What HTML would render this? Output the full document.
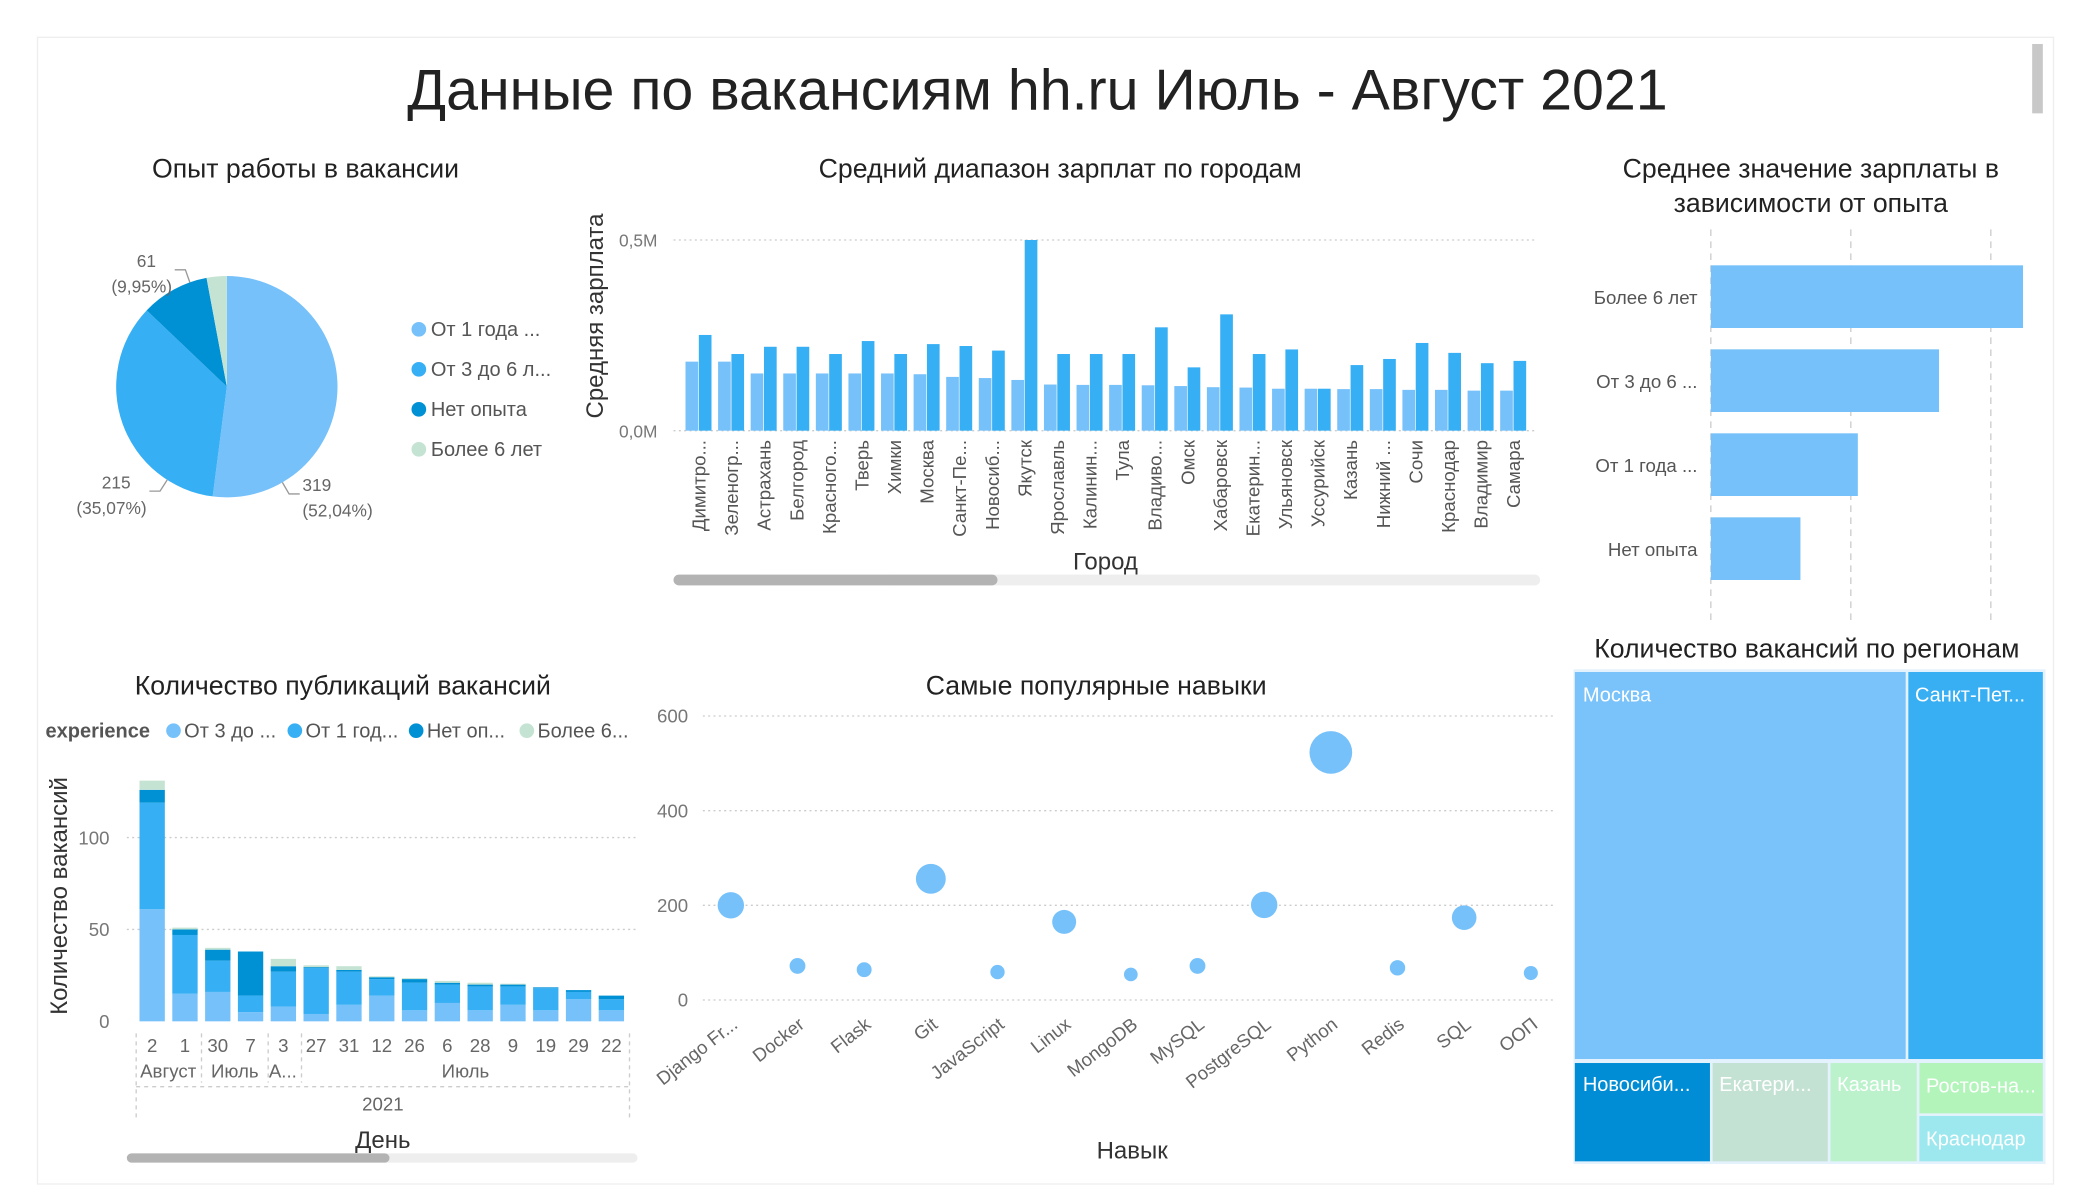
<!DOCTYPE html>
<html><head><meta charset="utf-8"><style>
html,body{margin:0;padding:0;background:#fff;}
svg{display:block;font-family:"Liberation Sans","DejaVu Sans",sans-serif;}
</style></head><body>
<svg id="root" width="2075" height="1200" viewBox="0 0 1556 900" xmlns="http://www.w3.org/2000/svg">
<rect x="28" y="28" width="1512" height="860" fill="#fff" stroke="#eee" stroke-width="1"/>
<rect x="1524" y="33" width="8" height="52" fill="#c8c8c8"/>
<text x="778" y="82" text-anchor="middle" font-size="43" fill="#222">Данные по вакансиям hh.ru Июль - Август 2021</text>
<text x="229" y="133" text-anchor="middle" font-size="20" fill="#222">Опыт работы в вакансии</text>
<text x="795" y="133" text-anchor="middle" font-size="20" fill="#222">Средний диапазон зарплат по городам</text>
<text x="1358" y="133" text-anchor="middle" font-size="20" fill="#222">Среднее значение зарплаты в</text>
<text x="1358" y="159" text-anchor="middle" font-size="20" fill="#222">зависимости от опыта</text>
<text x="257" y="521" text-anchor="middle" font-size="20" fill="#222">Количество публикаций вакансий</text>
<text x="822" y="521" text-anchor="middle" font-size="20" fill="#222">Самые популярные навыки</text>
<text x="1355" y="493" text-anchor="middle" font-size="20" fill="#222">Количество вакансий по регионам</text>
<g id="g"></g>
</svg>
<script>
// ---- Pie data ----
const pieLabels = ["От 1 года ...", "От 3 до 6 л...", "Нет опыта", "Более 6 лет"];
const pieValues = [319, 215, 61, 18];
const pieValueText = ["319", "215", "61", ""];
const piePctText = ["(52,04%)", "(35,07%)", "(9,95%)", ""];
// ---- City salary data ----
const cities = ["Димитро...","Зеленогр...","Астрахань","Белгород","Красного...","Тверь","Химки","Москва","Санкт-Пе...","Новосиб...","Якутск","Ярославль","Калинин...","Тула","Владиво...","Омск","Хабаровск","Екатерин...","Ульяновск","Уссурийск","Казань","Нижний ...","Сочи","Краснодар","Владимир","Самара"];
const salaryMin = [0.181,0.181,0.150,0.150,0.150,0.150,0.150,0.148,0.141,0.138,0.133,0.121,0.120,0.120,0.119,0.117,0.114,0.113,0.110,0.110,0.109,0.109,0.107,0.107,0.105,0.105];
const salaryMax = [0.251,0.201,0.220,0.220,0.201,0.235,0.201,0.227,0.222,0.210,0.500,0.201,0.201,0.201,0.271,0.166,0.305,0.201,0.213,0.110,0.172,0.188,0.230,0.204,0.177,0.183];
const cityTicks = [0, 0.5];
const cityTickLabels = ["0,0M", "0,5M"];
// ---- Experience salary ----
const expLabels = ["Более 6 лет", "От 3 до 6 ...", "От 1 года ...", "Нет опыта"];
const expValues = [223, 163, 105, 64];
const expGrid = [0, 100, 200];
// ---- Publications ----
const days = ["2","1","30","7","3","27","31","12","26","6","28","9","19","29","22"];
const seriesNames = ["От 3 до ...", "От 1 год...", "Нет оп...", "Более 6..."];
const s3to6 = [61,15,16,5,8,4,9,14,6,10,6,9,6,12,6];
const s1to3 = [58,32,17,9,19,25,18,9,15,10,13,10,12,4,6];
const sNone = [7,3,6,24,3,0.5,1,1,2,1,1,1,0.5,1,2];
const sOver6 = [5,1,1,0,4,1,2,0.5,0.5,1,1,0.5,0,0,0];
const pubTicks = [0, 50, 100];
// ---- Skills ----
const skills = ["Django Fr...","Docker","Flask","Git","JavaScript","Linux","MongoDB","MySQL","PostgreSQL","Python","Redis","SQL","ООП"];
const skillValues = [200,72,64,256,59,165,54,72,201,523,68,174,57];
const skillTicks = [0,200,400,600];
// ---- Treemap ----
const regions = ["Москва","Санкт-Пет...","Новосиби...","Екатери...","Казань","Ростов-на...","Краснодар"];
const regionValues = [310,128,33,28.5,21.5,16,14.5];

const NS = "http://www.w3.org/2000/svg";
const G = document.getElementById("g");
function mk(tag, a, txt){const e=document.createElementNS(NS,tag);for(const k in a)e.setAttribute(k,a[k]);if(txt!==undefined)e.textContent=txt;G.appendChild(e);return e;}
const C1="#77C1FA", C2="#37AFF4", C3="#0091D5", C4="#C4E3D3";
const pieColors=[C1,C2,C3,C4];
const pieLabelFrac=[0.8,0.2,0.75,0.5]; // where along each slice the leader line attaches

// PIE
(function(){
  const cx=170, cy=290, r=83; const tot=pieValues.reduce((a,b)=>a+b,0);
  let a0=0;
  pieValues.forEach((v,i)=>{
    const a1=a0+v/tot*2*Math.PI;
    const x0=cx+r*Math.sin(a0), y0=cy-r*Math.cos(a0), x1=cx+r*Math.sin(a1), y1=cy-r*Math.cos(a1);
    const p=mk("path",{d:`M${cx},${cy}L${x0},${y0}A${r},${r} 0 ${a1-a0>Math.PI?1:0} 1 ${x1},${y1}Z`,fill:pieColors[i]});
    
    
    if(pieValueText[i]){
      const am=a0+(a1-a0)*pieLabelFrac[i], sx=Math.sin(am), sy=-Math.cos(am);
      const ex=cx+(r+10)*sx, ey=cy+(r+10)*sy;
      const right=sx>0; const hx=ex+(right?8:-8);
      const ln=mk("polyline",{points:`${cx+r*sx},${cy+r*sy} ${ex},${ey} ${hx},${ey}`,fill:"none",stroke:"#999","stroke-width":1});
      
      
      const tx = right? hx+2 : hx-2;
      const t1=mk("text",{x:tx+(right?0:-12),y:ey-2,"font-size":13,fill:"#666","text-anchor":right?"start":"end"},pieValueText[i]);
      
      
      const t2=mk("text",{x:tx,y:ey+17,"font-size":13,fill:"#666","text-anchor":right?"start":"end"},piePctText[i]);
      
      
    }
    a0=a1;
  });
  pieLabels.forEach((l,i)=>{
    const y=252+i*30;
    const c=mk("circle",{cx:314,cy:y-5,r:5.5,fill:pieColors[i]});
    
    
    const t=mk("text",{x:323,y:y,"font-size":15,fill:"#555"},l);
    
    
  });
})();

// CITY BARS
(function(){
  const y0=323, y1=180, vmax=0.5; const Y=v=>y0-(v/vmax)*(y0-y1);
  const x0=510, step=24.44; const X=i=>x0+i*step;
  cityTicks.forEach((t,i)=>{
    const l=mk("line",{x1:505,x2:1152,y1:Y(t),y2:Y(t),stroke:"#ccc","stroke-dasharray":"1.5,2.5"});
    
    
    const tx=mk("text",{x:493,y:Y(t)+5,"text-anchor":"end","font-size":13,fill:"#777"},cityTickLabels[i]);
    
    
  });
  cities.forEach((c,i)=>{
    const b1=mk("rect",{x:X(i)+4,y:Y(salaryMin[i]),width:9.5,height:y0-Y(salaryMin[i]),fill:C1});
    
    
    const b2=mk("rect",{x:X(i)+14,y:Y(salaryMax[i]),width:9.5,height:y0-Y(salaryMax[i]),fill:C2});
    
    
    const cx=X(i)+14+5;
    const t=mk("text",{x:0,y:0,transform:`translate(${cx},330) rotate(-90)`,"text-anchor":"end","font-size":14,fill:"#555"},c);
    
    
  });
  const yt=mk("text",{transform:"translate(452,237) rotate(-90)","text-anchor":"middle","font-size":18,fill:"#333"},"Средняя зарплата");
  
  
  const xt=mk("text",{x:829,y:427,"text-anchor":"middle","font-size":18,fill:"#333"},"Город");
  
  
  const tr=mk("rect",{x:505,y:431,width:650,height:8,rx:4,fill:"#eee"});
  
  
  const th=mk("rect",{x:505,y:431,width:243,height:8,rx:4,fill:"#b3b3b3"});
  
  
})();

// EXPERIENCE HBAR
(function(){
  const x0=1283, ppu=1.05; const X=v=>x0+v*ppu;
  expGrid.forEach(g=>{
    const l=mk("line",{x1:X(g),x2:X(g),y1:172,y2:465,stroke:"#ccc","stroke-dasharray":"5,4"});
    
    
  });
  expLabels.forEach((l,i)=>{
    const y=199+i*63;
    const r=mk("rect",{x:x0,y:y,width:X(expValues[i])-x0,height:47,fill:C1});
    
    
    const t=mk("text",{x:1273,y:y+29,"text-anchor":"end","font-size":14,fill:"#555"},l);
    
    
  });
})();

// PUBLICATIONS STACKED
(function(){
  const y0=766, ppu=1.378; const Y=v=>y0-v*ppu;
  const X=i=>114+i*24.6;
  const series=[s3to6,s1to3,sNone,sOver6];
  pubTicks.forEach(t=>{
    if(t>0){const l=mk("line",{x1:95,x2:478,y1:Y(t),y2:Y(t),stroke:"#ccc","stroke-dasharray":"1.5,2.5"});
    
    }
    const tx=mk("text",{x:82,y:Y(t)+5,"text-anchor":"end","font-size":14,fill:"#777"},String(t));
    
    
  });
  days.forEach((d,i)=>{
    let acc=0;
    series.forEach((s,k)=>{
      const v=s[i]; if(v<=0) return;
      const r=mk("rect",{x:X(i)-9.5,y:Y(acc+v),width:19,height:v*ppu,fill:pieColors[k]});
      
      
      acc+=v;
    });
    const t=mk("text",{x:X(i),y:789,"text-anchor":"middle","font-size":14,fill:"#666"},d);
    
    
  });
  const months=[["Август",126],["Июль",176],["А...",212],["Июль",349]];
  months.forEach(m=>{
    const t=mk("text",{x:m[1],y:808,"text-anchor":"middle","font-size":14,fill:"#666"},m[0]);
    
    
  });
  [102,151,201,226,472].forEach(x=>{
    const l=mk("line",{x1:x,x2:x,y1:775,y2:(x===102||x===472)?838:812,stroke:"#ccc","stroke-dasharray":"3,3"});
    
    
  });
  const hl=mk("line",{x1:102,x2:472,y1:815,y2:815,stroke:"#ccc","stroke-dasharray":"3,3"});
  
  
  const yr=mk("text",{x:287,y:833,"text-anchor":"middle","font-size":14,fill:"#666"},"2021");
  
  
  const xt=mk("text",{x:287,y:861,"text-anchor":"middle","font-size":18,fill:"#333"},"День");
  
  
  const yt=mk("text",{transform:"translate(50,672) rotate(-90)","text-anchor":"middle","font-size":18,fill:"#333"},"Количество вакансий");
  
  
  const lg=mk("text",{x:34,y:553,"font-size":15,"font-weight":"bold",fill:"#555"},"experience");
  
  
  const lx=[130,221,312,395]; const lc=[C1,C2,C3,C4];
  seriesNames.forEach((n,i)=>{
    const c=mk("circle",{cx:lx[i],cy:548,r:5.5,fill:lc[i]});
    
    
    const t=mk("text",{x:lx[i]+8,y:553,"font-size":15,fill:"#555"},n);
    
    
  });
  const tr=mk("rect",{x:95,y:865,width:383,height:7,rx:3.5,fill:"#eee"});
  
  
  const th=mk("rect",{x:95,y:865,width:197,height:7,rx:3.5,fill:"#b3b3b3"});
  
  
})();

// SKILLS SCATTER
(function(){
  const y0=750, ppu=0.355; const Y=v=>y0-v*ppu; const X=i=>548+i*50;
  skillTicks.forEach(t=>{
    const l=mk("line",{x1:527,x2:1167,y1:Y(t),y2:Y(t),stroke:"#ccc","stroke-dasharray":"1.5,2.5"});
    
    
    const tx=mk("text",{x:516,y:Y(t)+5,"text-anchor":"end","font-size":14,fill:"#777"},String(t));
    
    
  });
  skills.forEach((s,i)=>{
    const c=mk("circle",{cx:X(i),cy:Y(skillValues[i]),r:0.7*Math.sqrt(skillValues[i]),fill:C1});
    
    
    const t=mk("text",{transform:`translate(${X(i)+6},770) rotate(-38)`,"text-anchor":"end","font-size":14,fill:"#666"},s);
    
    
  });
  const xt=mk("text",{x:849,y:869,"text-anchor":"middle","font-size":18,fill:"#333"},"Навык");
  
  
})();

// TREEMAP
(function(){
  const L=1181,T=504,W=352,H=368, gap=2;
  const cols=["#7AC3FA","#38AFF3","#008DD5","#C4E2D3","#BBF2CC","#B3F4BB","#9DE8EE"];
  const tot=regionValues.reduce((a,b)=>a+b,0);
  const topSum=regionValues[0]+regionValues[1];
  const hTop=H*topSum/tot; const rects=[];
  let x=L; [0,1].forEach(i=>{const w=W*regionValues[i]/topSum; rects[i]=[x,T,w,hTop]; x+=w;});
  const botSum=tot-topSum; const hB=H-hTop; x=L;
  [2,3,4].forEach(i=>{const w=W*regionValues[i]/botSum; rects[i]=[x,T+hTop,w,hB]; x+=w;});
  const wLast=L+W-x; const s56=regionValues[5]+regionValues[6]; let y=T+hTop;
  [5,6].forEach(i=>{const h=hB*regionValues[i]/s56; rects[i]=[x,y,wLast,h]; y+=h;});
  const bg=mk("rect",{x:L-1,y:T-2,width:W+2,height:H+3,fill:"#e3f2fd"});
  
  
  regions.forEach((r,i)=>{
    const [rx,ry,rw,rh]=rects[i];
    const e=mk("rect",{x:rx+(i===0||i===2?0:gap/2),y:ry+(ry>T?gap/2:0),width:rw-(i===0||i===2?gap/2:gap),height:rh-gap,fill:cols[i]});
    
    
    const t=mk("text",{x:rx+6,y:ry+(rh<45?23:22),"font-size":15,fill:"#fff"},r);
    
    
  });
})();
</script>
</body></html>
